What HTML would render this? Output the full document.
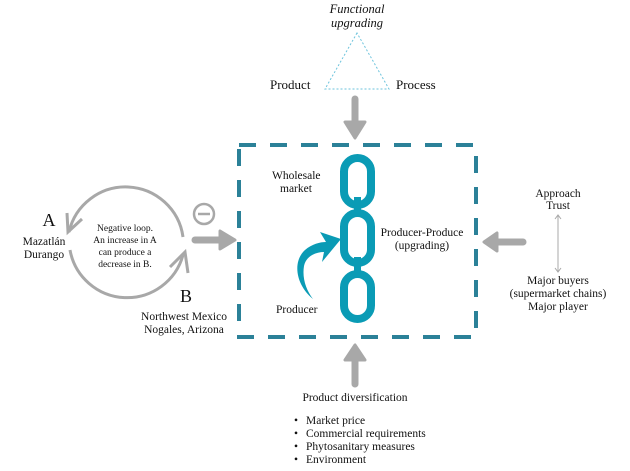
<!DOCTYPE html>
<html><head><meta charset="utf-8"><style>
html,body{margin:0;padding:0;background:#fff;}
svg{display:block;}
text{font-family:"Liberation Serif",serif;fill:#111;}
</style></head><body>
<svg width="630" height="471" viewBox="0 0 630 471" xmlns="http://www.w3.org/2000/svg">
<!-- top -->
<text x="357" y="13" font-size="12.5" font-style="italic" text-anchor="middle">Functional</text>
<text x="357" y="27" font-size="12.5" font-style="italic" text-anchor="middle">upgrading</text>
<polygon points="357,33 325,89 389,89" fill="none" stroke="#6cc3dc" stroke-width="1" stroke-dasharray="2,2"/>
<text x="270" y="89" font-size="13">Product</text>
<text x="396" y="89" font-size="13">Process</text>
<line x1="355" y1="99" x2="355" y2="124" stroke="#a8a8a8" stroke-width="7" stroke-linecap="round"/>
<polygon points="345,122 365,122 355,138" fill="#a8a8a8" stroke="#a8a8a8" stroke-width="3" stroke-linejoin="round"/>
<!-- dashed box -->
<rect x="239" y="145" width="237" height="192" fill="none" stroke="#2b8198" stroke-width="4" stroke-dasharray="17,14"/>
<!-- chain -->
<g fill="none" stroke="#0a9bb5" stroke-width="8">
<rect x="344" y="158" width="27" height="47" rx="13.5"/>
<rect x="344" y="213" width="27" height="50" rx="13.5"/>
<rect x="344" y="274" width="27" height="45" rx="13.5"/>
</g>
<rect x="354" y="197" width="7" height="16" fill="#0a9bb5"/>
<rect x="354" y="257" width="7" height="17" fill="#0a9bb5"/>
<path d="M313,299 C296,285 292,262 305,250 C312,244 320,242 326,242 L320,232 L341,239 L322,262 L324,252 C316,252 306,256 304,266 C302,278 306,290 313,299 Z" fill="#0a9bb5"/>
<text x="272" y="179" font-size="11.5">Wholesale</text>
<text x="280" y="192" font-size="11.5">market</text>
<text x="422" y="236" font-size="11.5" text-anchor="middle">Producer-Produce</text>
<text x="422" y="249" font-size="11.5" text-anchor="middle">(upgrading)</text>
<text x="276" y="313" font-size="11.5">Producer</text>
<!-- left loop -->
<path d="M183,237 A58,58 0 0 0 69,232" fill="none" stroke="#a8a8a8" stroke-width="3"/>
<path d="M70,250 A58,58 0 0 0 183,255" fill="none" stroke="#a8a8a8" stroke-width="3"/>
<polyline points="67,213 68,232 82,219" fill="none" stroke="#a8a8a8" stroke-width="3"/>
<polyline points="170,267 185,252 188,273" fill="none" stroke="#a8a8a8" stroke-width="3"/>
<text x="125" y="231" font-size="9.5" text-anchor="middle">Negative loop.</text>
<text x="125" y="243" font-size="9.5" text-anchor="middle">An increase in A</text>
<text x="125" y="255" font-size="9.5" text-anchor="middle">can produce a</text>
<text x="125" y="267" font-size="9.5" text-anchor="middle">decrease in B.</text>
<text x="49" y="226" font-size="18" text-anchor="middle">A</text>
<text x="44" y="245" font-size="11.5" text-anchor="middle">Mazatlán</text>
<text x="44" y="258" font-size="11.5" text-anchor="middle">Durango</text>
<text x="186" y="302" font-size="18" text-anchor="middle">B</text>
<text x="184" y="320" font-size="11.5" text-anchor="middle">Northwest Mexico</text>
<text x="184" y="333" font-size="11.5" text-anchor="middle">Nogales, Arizona</text>
<circle cx="204" cy="214" r="10" fill="none" stroke="#a8a8a8" stroke-width="2.5"/>
<line x1="198" y1="214" x2="210" y2="214" stroke="#a8a8a8" stroke-width="2.5"/>
<line x1="195" y1="240" x2="222" y2="240" stroke="#a8a8a8" stroke-width="7" stroke-linecap="round"/>
<polygon points="220,231 220,249 235,240" fill="#a8a8a8" stroke="#a8a8a8" stroke-width="3" stroke-linejoin="round"/>
<!-- right -->
<text x="558" y="197" font-size="11.5" text-anchor="middle">Approach</text>
<text x="558" y="209" font-size="11.5" text-anchor="middle">Trust</text>
<line x1="558" y1="215" x2="558" y2="272" stroke="#a8a8a8" stroke-width="1"/>
<polyline points="555,219 558,215 561,219" fill="none" stroke="#a8a8a8"/>
<polyline points="555,268 558,272 561,268" fill="none" stroke="#a8a8a8"/>
<text x="558" y="284" font-size="11.5" text-anchor="middle">Major buyers</text>
<text x="558" y="297" font-size="11.5" text-anchor="middle">(supermarket chains)</text>
<text x="558" y="310" font-size="11.5" text-anchor="middle">Major player</text>
<line x1="523" y1="242" x2="496" y2="242" stroke="#a8a8a8" stroke-width="7" stroke-linecap="round"/>
<polygon points="497,233 497,251 484,242" fill="#a8a8a8" stroke="#a8a8a8" stroke-width="3" stroke-linejoin="round"/>
<!-- bottom -->
<polygon points="345,360 365,360 355,345" fill="#a8a8a8" stroke="#a8a8a8" stroke-width="3" stroke-linejoin="round"/>
<line x1="355" y1="358" x2="355" y2="384" stroke="#a8a8a8" stroke-width="7" stroke-linecap="round"/>
<text x="355" y="401" font-size="11.5" text-anchor="middle">Product diversification</text>
<g font-size="11.5">
<text x="294" y="424">•</text><text x="306" y="424">Market price</text>
<text x="294" y="437">•</text><text x="306" y="437">Commercial requirements</text>
<text x="294" y="450">•</text><text x="306" y="450">Phytosanitary measures</text>
<text x="294" y="463">•</text><text x="306" y="463">Environment</text>
</g>
</svg>
</body></html>
